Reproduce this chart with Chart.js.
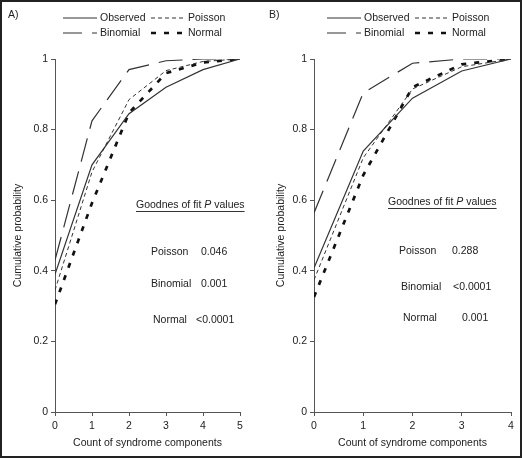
<!DOCTYPE html>
<html lang="en">
<head>
<meta charset="UTF-8" />
<title>Cumulative probability</title>
<style>
  body { margin: 0; background: #fff; }
  #wrap { position: relative; width: 522px; height: 458px; }
  canvas { position: absolute; top: 0; }
  #chartA { left: 0; }
  #chartB { left: 261px; }
  #frame { position: absolute; left: 0; top: 0; width: 522px; height: 458px; box-sizing: border-box; border: 2px solid #222; pointer-events: none; }
</style>
</head>
<body>
<div id="wrap">
  <canvas id="chartA" width="261" height="458"></canvas>
  <canvas id="chartB" width="261" height="458"></canvas>
  <div id="frame"></div>
</div>
<script src="https://cdn.jsdelivr.net/npm/chart.js"></script>
<script>
  // panel A
  const countsA = [0, 1, 2, 3, 4, 5];
  const observedA = [0.39, 0.70, 0.845, 0.92, 0.97, 1];
  const poissonA = [0.345, 0.68, 0.885, 0.967, 0.993, 1];
  const binomialA = [0.43, 0.825, 0.97, 0.995, 1, 1];
  const normalA = [0.305, 0.592, 0.847, 0.96, 0.99, 1];
  const fitNamesA = ["Poisson", "Binomial", "Normal"];
  const fitValuesA = ["0.046", "0.001", "<0.0001"];

  // panel B
  const countsB = [0, 1, 2, 3, 4];
  const observedB = [0.408, 0.739, 0.889, 0.966, 1];
  const poissonB = [0.374, 0.72, 0.915, 0.978, 1];
  const binomialB = [0.564, 0.904, 0.988, 1, 1];
  const normalB = [0.326, 0.671, 0.92, 0.985, 1];
  const fitNamesB = ["Poisson", "Binomial", "Normal"];
  const fitValuesB = ["0.288", "<0.0001", "0.001"];

  const yTickLabels = ["0", "0.2", "0.4", "0.6", "0.8", "1"];
  const seriesNames = ["Observed", "Poisson", "Binomial", "Normal"];

  const FONT = "'Liberation Sans', Arial, sans-serif";
  const FS = 10.5;
  const styles = {
    Observed: { borderColor: "#333", borderWidth: 1.2, borderDash: [] },
    Poisson: { borderColor: "#333", borderWidth: 1, borderDash: [4, 3] },
    Binomial: { borderColor: "#333", borderWidth: 1.2, borderDash: [24, 10] },
    Normal: { borderColor: "#111", borderWidth: 2.7, borderDash: [5, 8] },
  };

  function decor(cfg) {
    return {
      id: "decor",
      afterDraw(chart) {
        const ctx = chart.ctx;
        ctx.save();
        ctx.fillStyle = "#222";
        ctx.font = FS + "px " + FONT;
        ctx.textBaseline = "middle";
        ctx.fillText(cfg.letter, 8, 15);

        // legend, two rows of two
        seriesNames.forEach((name, i) => {
          const ds = chart.data.datasets[i];
          const col = i % 2, row = Math.floor(i / 2);
          const y = cfg.legendY[row];
          const x0 = cfg.legendX[col];
          ctx.beginPath();
          ctx.setLineDash(ds.borderDash);
          ctx.lineDashOffset = name === "Binomial" ? 5 : 0;
          ctx.lineWidth = ds.borderWidth;
          ctx.strokeStyle = ds.borderColor;
          ctx.moveTo(x0, y);
          ctx.lineTo(x0 + 34, y);
          ctx.stroke();
          ctx.setLineDash([]);
          ctx.fillText(name, x0 + 37, y);
        });

        // goodness of fit box
        const hx = cfg.headX, hy = cfg.headY;
        let x = hx;
        ctx.font = FS + "px " + FONT;
        ctx.fillText("Goodnes of fit ", x, hy);
        x += ctx.measureText("Goodnes of fit ").width;
        ctx.font = "italic " + FS + "px " + FONT;
        ctx.fillText("P", x, hy);
        x += ctx.measureText("P").width;
        ctx.font = FS + "px " + FONT;
        ctx.fillText(" values", x, hy);
        x += ctx.measureText(" values").width;
        ctx.beginPath();
        ctx.lineWidth = 1;
        ctx.strokeStyle = "#333";
        ctx.moveTo(hx, hy + 6.5);
        ctx.lineTo(x, hy + 6.5);
        ctx.stroke();

        cfg.names.forEach((n, i) => {
          ctx.fillText(n, cfg.nameX[i], cfg.rowY[i]);
          ctx.fillText(cfg.values[i], cfg.valueX[i], cfg.rowY[i]);
        });
        ctx.restore();
      },
    };
  }

  function makeChart(id, counts, series, cfg) {
    const datasets = seriesNames.map((name, i) => ({
      label: name,
      data: counts.map((c, j) => ({ x: c, y: series[i][j] })),
      borderColor: styles[name].borderColor,
      borderWidth: styles[name].borderWidth,
      borderDash: styles[name].borderDash,
      pointRadius: 0,
      tension: 0,
      fill: false,
    }));
    const axisColor = "#555";
    return new Chart(document.getElementById(id), {
      type: "line",
      data: { datasets: datasets },
      plugins: [decor(cfg)],
      options: {
        responsive: false,
        animation: false,
        layout: { padding: { left: 0, right: cfg.padRight, top: 59, bottom: 0 } },
        plugins: { legend: { display: false }, tooltip: { enabled: false } },
        scales: {
          x: {
            type: "linear",
            min: 0,
            max: counts[counts.length - 1],
            afterFit(scale) { scale.height = 46; },
            grid: { drawOnChartArea: false, drawTicks: true, tickLength: 4, color: axisColor },
            border: { display: true, color: axisColor, width: 1 },
            ticks: { stepSize: 1, padding: 4, color: "#222", font: { family: FONT, size: FS } },
            title: { display: true, text: "Count of syndrome components", color: "#222", font: { family: FONT, size: FS }, padding: { top: 0, bottom: 9 } },
          },
          y: {
            min: 0,
            max: 1,
            afterFit(scale) { scale.width = cfg.axisLeft; },
            grid: { drawOnChartArea: false, drawTicks: true, tickLength: 4, color: axisColor },
            border: { display: true, color: axisColor, width: 1 },
            ticks: {
              stepSize: 0.2,
              padding: 3,
              color: "#222",
              font: { family: FONT, size: FS },
              callback: (v, i) => yTickLabels[i],
            },
            title: { display: true, text: "Cumulative probability", color: "#222", font: { family: FONT, size: FS }, padding: { top: cfg.titlePad, bottom: 0 } },
          },
        },
      },
    });
  }

  makeChart("chartA", countsA, [observedA, poissonA, binomialA, normalA], {
    letter: "A)",
    axisLeft: 55,
    padRight: 21,
    titlePad: 11.5,
    legendX: [63, 151],
    legendY: [18, 33],
    headX: 136, headY: 205,
    names: fitNamesA, values: fitValuesA,
    nameX: [151, 151, 153], valueX: [201, 201, 196], rowY: [252, 284, 320],
  });

  makeChart("chartB", countsB, [observedB, poissonB, binomialB, normalB], {
    letter: "B)",
    axisLeft: 53,
    padRight: 11,
    titlePad: 13.5,
    legendX: [66, 154],
    legendY: [18, 33],
    headX: 127, headY: 202,
    names: fitNamesB, values: fitValuesB,
    nameX: [138, 140, 142], valueX: [191, 192, 201], rowY: [251, 287, 318],
  });
</script>
</body>
</html>
